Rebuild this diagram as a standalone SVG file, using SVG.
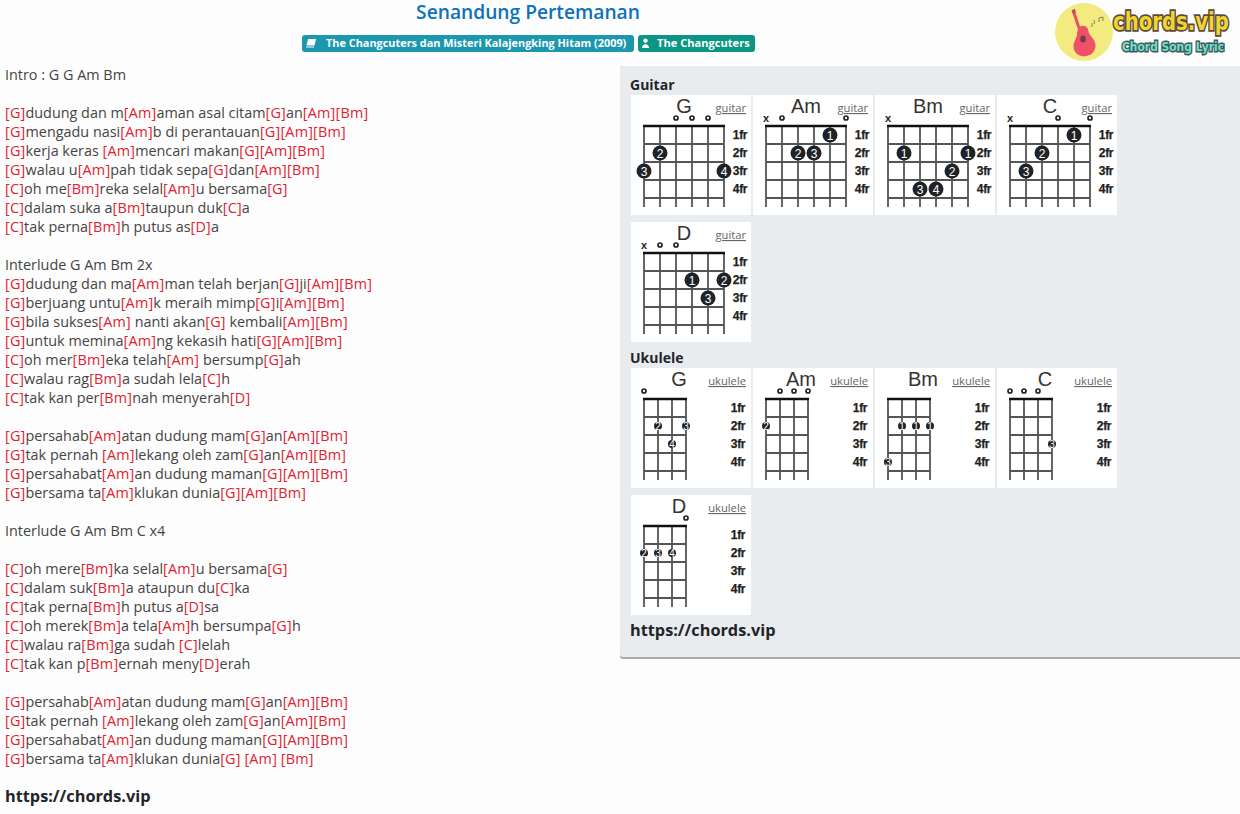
<svg xmlns="http://www.w3.org/2000/svg" xmlns:xlink="http://www.w3.org/1999/xlink" width="1240" height="814" viewBox="0 0 1240 814">
<style>
text{font-family:"Open Sans","Noto Sans","Liberation Sans",sans-serif}
.l{font-size:14.4px;fill:#444}
.c{fill:#e0212f;letter-spacing:.2px}
.b{font-size:16.3px;font-weight:700;fill:#212529}
.h{font-size:14px;font-weight:700;fill:#212529}
.n{font-family:"Liberation Sans",Arial,sans-serif;font-size:20px;fill:#333;text-anchor:middle}
.t{font-size:11.2px;fill:#666;text-anchor:end;text-decoration:underline}
.f{font-family:"Liberation Sans",Arial,sans-serif;font-size:12px;font-weight:700;fill:#222;stroke:#222;stroke-width:.25;text-anchor:end;letter-spacing:-.4px}
.m{font-family:"Liberation Sans",Arial,sans-serif;font-size:11px;font-weight:700;fill:#222;text-anchor:middle}
.d{fill:#1f2328}
.w{font-family:"Liberation Sans",Arial,sans-serif;font-size:12px;fill:#fff;text-anchor:middle}
.u{font-family:"Liberation Sans",Arial,sans-serif;font-size:10px;fill:#fff;text-anchor:middle}
.card{fill:#fff}
.s{stroke:#555;stroke-width:1.8;fill:none}
.top{stroke:#111;stroke-width:2.6;fill:none}
.bd{font-size:10.9px;font-weight:700;fill:#fff}
.lg{font-family:"DejaVu Sans",sans-serif;font-weight:700;paint-order:stroke}
</style>
<defs>
<g id="gg"><path class="s" d="M644 126V207M660 126V207M676 126V207M692 126V207M708 126V207M724 126V207M644 144H724M644 162H724M644 180H724M644 198H724"/><path class="top" d="M643 126H725"/></g>
<g id="ug"><path class="s" d="M644 126V207M658 126V207M672 126V207M686 126V207M644 144H686M644 162H686M644 180H686M644 198H686"/><path class="top" d="M643 126H687"/></g>
<circle id="o" r="2" fill="none" stroke="#222" stroke-width="1.700"/>
</defs>
<rect width="1240" height="814" fill="#fdfdfd"/>
<g id="header">
<text x="528" y="19" text-anchor="middle" font-size="19.2" font-weight="600" fill="#0b72bd">Senandung Pertemanan</text>
<rect x="302" y="35" width="332" height="17" rx="3" fill="#1b98ae"/>
<rect x="638" y="35" width="117" height="17" rx="3" fill="#0a9584"/>
<path d="M308 39h8l-1.500 6.500h-8zM306.500 46.500h7.500v1h-8z" fill="#fff"/>
<path d="M645.500 38.500a2.200 2.200 0 1 0 .01 0zM642 48c0-5 7-5 7 0z" fill="#fff"/>
<text class="bd" x="326" y="47">The Changcuters dan Misteri Kalajengking Hitam (2009)</text>
<text class="bd" x="657" y="47" style="font-size:11.1px">The Changcuters</text>
</g>
<g id="logo">
<circle cx="1084" cy="32" r="29" fill="#f3ea80"/>
<path d="M1073 10L1083 40" stroke="#e9536a" stroke-width="3"/>
<path d="M1072 10l3-1 1 4-3 1z" fill="#c8465a"/>
<path d="M1081 26c4-1 7 1 7.500 5 .5 3 1.500 4 4 7 3 4 4 8 2 12-2 5-8 7-13 6-5-1-8-5-8-10 0-4 2-6 3-9 1-2 0-4 1-6 .5-2 1.500-4 3.500-5z" fill="#ef5168"/>
<ellipse cx="1083" cy="39" rx="2.800" ry="3.500" fill="#7a3a4a"/>
<path d="M1092 27v-4M1094 24c1-1 0-3 0-4M1099 22v-4l4-1v4" stroke="#8a8050" stroke-width="1" fill="none"/>
<text class="lg" transform="translate(1113 30) scale(.82 1)" font-size="24" fill="#f2d430" stroke="#5a4a3a" stroke-width="3.500">chords.vip</text>
<text class="lg" transform="translate(1122 51) scale(.825 1)" font-size="13" fill="#6fe0cf" stroke="#3d5a5a" stroke-width="3">Chord Song Lyric</text>
</g>
<g id="lyrics" transform="translate(0 1)">
<text class="l" x="5" y="79">Intro : G G Am Bm</text>
<text class="l" x="5" y="117"><tspan class="c">[G]</tspan>dudung dan m<tspan class="c">[Am]</tspan>aman asal citam<tspan class="c">[G]</tspan>an<tspan class="c">[Am]</tspan><tspan class="c">[Bm]</tspan></text>
<text class="l" x="5" y="136"><tspan class="c">[G]</tspan>mengadu nasi<tspan class="c">[Am]</tspan>b di perantauan<tspan class="c">[G]</tspan><tspan class="c">[Am]</tspan><tspan class="c">[Bm]</tspan></text>
<text class="l" x="5" y="155"><tspan class="c">[G]</tspan>kerja keras <tspan class="c">[Am]</tspan>mencari makan<tspan class="c">[G]</tspan><tspan class="c">[Am]</tspan><tspan class="c">[Bm]</tspan></text>
<text class="l" x="5" y="174"><tspan class="c">[G]</tspan>walau u<tspan class="c">[Am]</tspan>pah tidak sepa<tspan class="c">[G]</tspan>dan<tspan class="c">[Am]</tspan><tspan class="c">[Bm]</tspan></text>
<text class="l" x="5" y="193"><tspan class="c">[C]</tspan>oh me<tspan class="c">[Bm]</tspan>reka selal<tspan class="c">[Am]</tspan>u bersama<tspan class="c">[G]</tspan></text>
<text class="l" x="5" y="212"><tspan class="c">[C]</tspan>dalam suka a<tspan class="c">[Bm]</tspan>taupun duk<tspan class="c">[C]</tspan>a</text>
<text class="l" x="5" y="231"><tspan class="c">[C]</tspan>tak perna<tspan class="c">[Bm]</tspan>h putus as<tspan class="c">[D]</tspan>a</text>
<text class="l" x="5" y="269">Interlude G Am Bm 2x</text>
<text class="l" x="5" y="288"><tspan class="c">[G]</tspan>dudung dan ma<tspan class="c">[Am]</tspan>man telah berjan<tspan class="c">[G]</tspan>ji<tspan class="c">[Am]</tspan><tspan class="c">[Bm]</tspan></text>
<text class="l" x="5" y="307"><tspan class="c">[G]</tspan>berjuang untu<tspan class="c">[Am]</tspan>k meraih mimp<tspan class="c">[G]</tspan>i<tspan class="c">[Am]</tspan><tspan class="c">[Bm]</tspan></text>
<text class="l" x="5" y="326"><tspan class="c">[G]</tspan>bila sukses<tspan class="c">[Am]</tspan> nanti akan<tspan class="c">[G]</tspan> kembali<tspan class="c">[Am]</tspan><tspan class="c">[Bm]</tspan></text>
<text class="l" x="5" y="345"><tspan class="c">[G]</tspan>untuk memina<tspan class="c">[Am]</tspan>ng kekasih hati<tspan class="c">[G]</tspan><tspan class="c">[Am]</tspan><tspan class="c">[Bm]</tspan></text>
<text class="l" x="5" y="364"><tspan class="c">[C]</tspan>oh mer<tspan class="c">[Bm]</tspan>eka telah<tspan class="c">[Am]</tspan> bersump<tspan class="c">[G]</tspan>ah</text>
<text class="l" x="5" y="383"><tspan class="c">[C]</tspan>walau rag<tspan class="c">[Bm]</tspan>a sudah lela<tspan class="c">[C]</tspan>h</text>
<text class="l" x="5" y="402"><tspan class="c">[C]</tspan>tak kan per<tspan class="c">[Bm]</tspan>nah menyerah<tspan class="c">[D]</tspan></text>
<text class="l" x="5" y="440"><tspan class="c">[G]</tspan>persahab<tspan class="c">[Am]</tspan>atan dudung mam<tspan class="c">[G]</tspan>an<tspan class="c">[Am]</tspan><tspan class="c">[Bm]</tspan></text>
<text class="l" x="5" y="459"><tspan class="c">[G]</tspan>tak pernah <tspan class="c">[Am]</tspan>lekang oleh zam<tspan class="c">[G]</tspan>an<tspan class="c">[Am]</tspan><tspan class="c">[Bm]</tspan></text>
<text class="l" x="5" y="478"><tspan class="c">[G]</tspan>persahabat<tspan class="c">[Am]</tspan>an dudung maman<tspan class="c">[G]</tspan><tspan class="c">[Am]</tspan><tspan class="c">[Bm]</tspan></text>
<text class="l" x="5" y="497"><tspan class="c">[G]</tspan>bersama ta<tspan class="c">[Am]</tspan>klukan dunia<tspan class="c">[G]</tspan><tspan class="c">[Am]</tspan><tspan class="c">[Bm]</tspan></text>
<text class="l" x="5" y="535">Interlude G Am Bm C x4</text>
<text class="l" x="5" y="573"><tspan class="c">[C]</tspan>oh mere<tspan class="c">[Bm]</tspan>ka selal<tspan class="c">[Am]</tspan>u bersama<tspan class="c">[G]</tspan></text>
<text class="l" x="5" y="592"><tspan class="c">[C]</tspan>dalam suk<tspan class="c">[Bm]</tspan>a ataupun du<tspan class="c">[C]</tspan>ka</text>
<text class="l" x="5" y="611"><tspan class="c">[C]</tspan>tak perna<tspan class="c">[Bm]</tspan>h putus a<tspan class="c">[D]</tspan>sa</text>
<text class="l" x="5" y="630"><tspan class="c">[C]</tspan>oh merek<tspan class="c">[Bm]</tspan>a tela<tspan class="c">[Am]</tspan>h bersumpa<tspan class="c">[G]</tspan>h</text>
<text class="l" x="5" y="649"><tspan class="c">[C]</tspan>walau ra<tspan class="c">[Bm]</tspan>ga sudah <tspan class="c">[C]</tspan>lelah</text>
<text class="l" x="5" y="668"><tspan class="c">[C]</tspan>tak kan p<tspan class="c">[Bm]</tspan>ernah meny<tspan class="c">[D]</tspan>erah</text>
<text class="l" x="5" y="706"><tspan class="c">[G]</tspan>persahab<tspan class="c">[Am]</tspan>atan dudung mam<tspan class="c">[G]</tspan>an<tspan class="c">[Am]</tspan><tspan class="c">[Bm]</tspan></text>
<text class="l" x="5" y="725"><tspan class="c">[G]</tspan>tak pernah <tspan class="c">[Am]</tspan>lekang oleh zam<tspan class="c">[G]</tspan>an<tspan class="c">[Am]</tspan><tspan class="c">[Bm]</tspan></text>
<text class="l" x="5" y="744"><tspan class="c">[G]</tspan>persahabat<tspan class="c">[Am]</tspan>an dudung maman<tspan class="c">[G]</tspan><tspan class="c">[Am]</tspan><tspan class="c">[Bm]</tspan></text>
<text class="l" x="5" y="763"><tspan class="c">[G]</tspan>bersama ta<tspan class="c">[Am]</tspan>klukan dunia<tspan class="c">[G]</tspan> <tspan class="c">[Am]</tspan> <tspan class="c">[Bm]</tspan></text>
<text class="b" x="5" y="801">https://chords.vip</text>
</g>
<g id="panel">
<rect x="620" y="66" width="622" height="593" rx="3" fill="#aaa"/>
<rect x="620" y="66" width="622" height="591" rx="3" fill="#e9ecef"/>
<text class="h" x="630" y="90">Guitar</text>
<text class="h" x="630" y="363">Ukulele</text>
<text class="b" x="630" y="636">https://chords.vip</text>
</g>
<g id="g-G"><rect class="card" x="631" y="95" width="120" height="120"/><use xlink:href="#gg"/>
<text class="n" x="684" y="113">G</text><text class="t" x="746" y="112">guitar</text>
<use xlink:href="#o" x="676" y="118"/><use xlink:href="#o" x="692" y="118"/><use xlink:href="#o" x="708" y="118"/>
<text class="f" x="747" y="139">1fr</text><text class="f" x="747" y="157">2fr</text><text class="f" x="747" y="175">3fr</text><text class="f" x="747" y="193">4fr</text>
<circle class="d" cx="660" cy="153" r="7.500"/><text class="w" x="660" y="157.500">2</text>
<circle class="d" cx="644" cy="171" r="7.500"/><text class="w" x="644" y="175.500">3</text>
<circle class="d" cx="724" cy="171" r="7.500"/><text class="w" x="724" y="175.500">4</text></g>
<g id="g-Am" transform="translate(122 0)"><rect class="card" x="631" y="95" width="120" height="120"/><use xlink:href="#gg"/>
<text class="n" x="684" y="113">Am</text><text class="t" x="746" y="112">guitar</text>
<text class="m" x="644" y="122">x</text><use xlink:href="#o" x="660" y="118"/><use xlink:href="#o" x="724" y="118"/>
<text class="f" x="747" y="139">1fr</text><text class="f" x="747" y="157">2fr</text><text class="f" x="747" y="175">3fr</text><text class="f" x="747" y="193">4fr</text>
<circle class="d" cx="708" cy="135" r="7.500"/><text class="w" x="708" y="139.500">1</text>
<circle class="d" cx="676" cy="153" r="7.500"/><text class="w" x="676" y="157.500">2</text>
<circle class="d" cx="692" cy="153" r="7.500"/><text class="w" x="692" y="157.500">3</text></g>
<g id="g-Bm" transform="translate(244 0)"><rect class="card" x="631" y="95" width="120" height="120"/><use xlink:href="#gg"/>
<text class="n" x="684" y="113">Bm</text><text class="t" x="746" y="112">guitar</text>
<text class="m" x="644" y="122">x</text>
<text class="f" x="747" y="139">1fr</text><text class="f" x="747" y="157">2fr</text><text class="f" x="747" y="175">3fr</text><text class="f" x="747" y="193">4fr</text>
<circle class="d" cx="660" cy="153" r="7.500"/><text class="w" x="660" y="157.500">1</text>
<circle class="d" cx="724" cy="153" r="7.500"/><text class="w" x="724" y="157.500">1</text>
<circle class="d" cx="708" cy="171" r="7.500"/><text class="w" x="708" y="175.500">2</text>
<circle class="d" cx="676" cy="189" r="7.500"/><text class="w" x="676" y="193.500">3</text>
<circle class="d" cx="692" cy="189" r="7.500"/><text class="w" x="692" y="193.500">4</text></g>
<g id="g-C" transform="translate(366 0)"><rect class="card" x="631" y="95" width="120" height="120"/><use xlink:href="#gg"/>
<text class="n" x="684" y="113">C</text><text class="t" x="746" y="112">guitar</text>
<text class="m" x="644" y="122">x</text><use xlink:href="#o" x="692" y="118"/><use xlink:href="#o" x="724" y="118"/>
<text class="f" x="747" y="139">1fr</text><text class="f" x="747" y="157">2fr</text><text class="f" x="747" y="175">3fr</text><text class="f" x="747" y="193">4fr</text>
<circle class="d" cx="708" cy="135" r="7.500"/><text class="w" x="708" y="139.500">1</text>
<circle class="d" cx="676" cy="153" r="7.500"/><text class="w" x="676" y="157.500">2</text>
<circle class="d" cx="660" cy="171" r="7.500"/><text class="w" x="660" y="175.500">3</text></g>
<g id="g-D" transform="translate(0 127)"><rect class="card" x="631" y="95" width="120" height="120"/><use xlink:href="#gg"/>
<text class="n" x="684" y="113">D</text><text class="t" x="746" y="112">guitar</text>
<text class="m" x="644" y="122">x</text><use xlink:href="#o" x="660" y="118"/><use xlink:href="#o" x="676" y="118"/>
<text class="f" x="747" y="139">1fr</text><text class="f" x="747" y="157">2fr</text><text class="f" x="747" y="175">3fr</text><text class="f" x="747" y="193">4fr</text>
<circle class="d" cx="692" cy="153" r="7.500"/><text class="w" x="692" y="157.500">1</text>
<circle class="d" cx="724" cy="153" r="7.500"/><text class="w" x="724" y="157.500">2</text>
<circle class="d" cx="708" cy="171" r="7.500"/><text class="w" x="708" y="175.500">3</text></g>
<g id="u-G" transform="translate(0 273)"><rect class="card" x="631" y="95" width="120" height="120"/><use xlink:href="#ug"/>
<text class="n" x="679" y="113">G</text><text class="t" x="746" y="112">ukulele</text>
<use xlink:href="#o" x="644" y="118"/>
<text class="f" x="745" y="139">1fr</text><text class="f" x="745" y="157">2fr</text><text class="f" x="745" y="175">3fr</text><text class="f" x="745" y="193">4fr</text>
<circle class="d" cx="658" cy="153" r="4"/><text class="u" x="658" y="156.500">2</text>
<circle class="d" cx="686" cy="153" r="4"/><text class="u" x="686" y="156.500">3</text>
<circle class="d" cx="672" cy="171" r="4"/><text class="u" x="672" y="174.500">4</text></g>
<g id="u-Am" transform="translate(122 273)"><rect class="card" x="631" y="95" width="120" height="120"/><use xlink:href="#ug"/>
<text class="n" x="679" y="113">Am</text><text class="t" x="746" y="112">ukulele</text>
<use xlink:href="#o" x="658" y="118"/><use xlink:href="#o" x="672" y="118"/><use xlink:href="#o" x="686" y="118"/>
<text class="f" x="745" y="139">1fr</text><text class="f" x="745" y="157">2fr</text><text class="f" x="745" y="175">3fr</text><text class="f" x="745" y="193">4fr</text>
<circle class="d" cx="644" cy="153" r="4"/><text class="u" x="644" y="156.500">2</text></g>
<g id="u-Bm" transform="translate(244 273)"><rect class="card" x="631" y="95" width="120" height="120"/><use xlink:href="#ug"/>
<text class="n" x="679" y="113">Bm</text><text class="t" x="746" y="112">ukulele</text>
<text class="f" x="745" y="139">1fr</text><text class="f" x="745" y="157">2fr</text><text class="f" x="745" y="175">3fr</text><text class="f" x="745" y="193">4fr</text>
<circle class="d" cx="658" cy="153" r="4"/><text class="u" x="658" y="156.500">1</text>
<circle class="d" cx="672" cy="153" r="4"/><text class="u" x="672" y="156.500">1</text>
<circle class="d" cx="686" cy="153" r="4"/><text class="u" x="686" y="156.500">1</text>
<circle class="d" cx="644" cy="189" r="4"/><text class="u" x="644" y="192.500">3</text></g>
<g id="u-C" transform="translate(366 273)"><rect class="card" x="631" y="95" width="120" height="120"/><use xlink:href="#ug"/>
<text class="n" x="679" y="113">C</text><text class="t" x="746" y="112">ukulele</text>
<use xlink:href="#o" x="644" y="118"/><use xlink:href="#o" x="658" y="118"/><use xlink:href="#o" x="672" y="118"/>
<text class="f" x="745" y="139">1fr</text><text class="f" x="745" y="157">2fr</text><text class="f" x="745" y="175">3fr</text><text class="f" x="745" y="193">4fr</text>
<circle class="d" cx="686" cy="171" r="4"/><text class="u" x="686" y="174.500">3</text></g>
<g id="u-D" transform="translate(0 400)"><rect class="card" x="631" y="95" width="120" height="120"/><use xlink:href="#ug"/>
<text class="n" x="679" y="113">D</text><text class="t" x="746" y="112">ukulele</text>
<use xlink:href="#o" x="686" y="118"/>
<text class="f" x="745" y="139">1fr</text><text class="f" x="745" y="157">2fr</text><text class="f" x="745" y="175">3fr</text><text class="f" x="745" y="193">4fr</text>
<circle class="d" cx="644" cy="153" r="4"/><text class="u" x="644" y="156.500">2</text>
<circle class="d" cx="658" cy="153" r="4"/><text class="u" x="658" y="156.500">3</text>
<circle class="d" cx="672" cy="153" r="4"/><text class="u" x="672" y="156.500">4</text></g>
</svg>
